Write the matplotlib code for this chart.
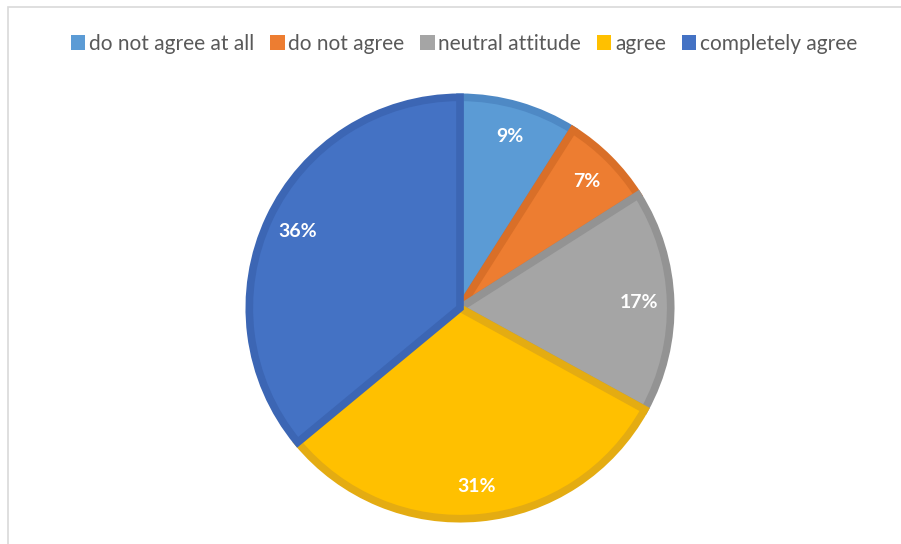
import matplotlib
matplotlib.use("Agg")
import matplotlib.pyplot as plt
from matplotlib.patches import Rectangle

categories = ["do not agree at all", "do not agree", "neutral attitude", "agree", "completely agree"]
values = [9, 7, 17, 31, 36]
labels = ["9%", "7%", "17%", "31%", "36%"]
colors = ["#5B9BD5", "#ED7D31", "#A5A5A5", "#FFC000", "#4472C4"]
edge_colors = ["#4E89C5", "#D96F28", "#939393", "#E4AC12", "#3C66B4"]

W, H = 901, 544
fig = plt.figure(figsize=(W / 100, H / 100), dpi=100)
fig.patch.set_facecolor("white")

# chart frame (top and left edges visible)
fig.add_artist(Rectangle((8 / W, -0.05), 1.1, (544 - 7) / H + 0.05, transform=fig.transFigure,
                         fill=False, edgecolor="#D9D9D9", linewidth=1.2))

cx, cy, R = 460, 308, 215
lim = 1.1
side = R * lim
ax = fig.add_axes([(cx - side) / W, (H - cy - side) / H, 2 * side / W, 2 * side / H])

wedges, texts = ax.pie(values, colors=colors, startangle=90, counterclock=False,
                       radius=0.98, labels=labels, labeldistance=0.85,
                       wedgeprops=dict(linewidth=5.5))
ax.set_xlim(-lim, lim)
ax.set_ylim(-lim, lim)
ax.set_aspect("equal")
ax.axis("off")
for w, ec in zip(wedges, edge_colors):
    w.set_edgecolor(ec)
    w.set_joinstyle("miter")
for t in texts:
    t.set_color("white")
    t.set_fontsize(14)
    t.set_fontweight("bold")
    t.set_family("Lato")
    t.set_ha("center")
    t.set_va("center")

leg = fig.legend(wedges, categories, loc="center", bbox_to_anchor=(464 / W, 1 - 44 / H),
                 ncol=5, frameon=False, handlelength=0.7, handleheight=0.7,
                 handletextpad=0.18, columnspacing=0.75,
                 prop=dict(family="Lato", size=15), labelcolor="#595959")
for h, c in zip(leg.legend_handles, colors):
    h.set_edgecolor("none")
    h.set_facecolor(c)

fig.savefig("out.png", dpi=100, facecolor="white")
